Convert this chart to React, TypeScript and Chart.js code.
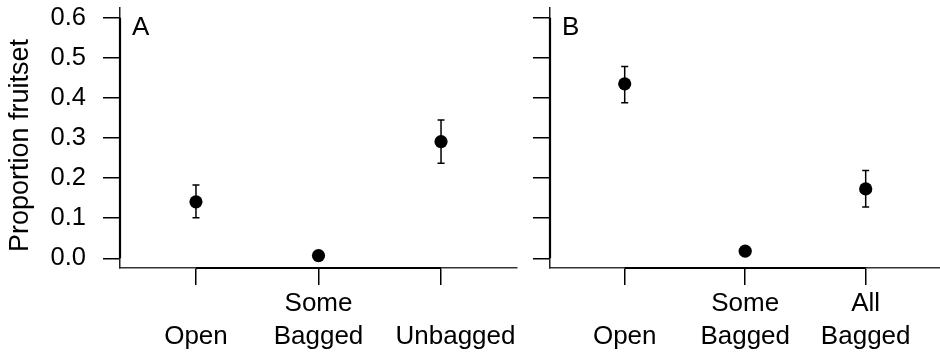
import React, { useEffect, useRef } from "react";
import { Chart, registerables } from "chart.js";

Chart.register(...registerables);

// ---- data ----
const yTickValues = [0, 0.1, 0.2, 0.3, 0.4, 0.5, 0.6];
const xTickValues = [1, 2, 3];
const categoriesA = [["", "Open"], ["Some", "Bagged"], ["", "    Unbagged"]];
const categoriesB = [["", "Open"], ["Some", "Bagged"], ["All", "Bagged"]];
const meanA = [0.141, 0.007, 0.291];
const lowA = [0.101, 0.007, 0.237];
const highA = [0.183, 0.007, 0.345];
const meanB = [0.435, 0.018, 0.173];
const lowB = [0.388, 0.018, 0.128];
const highB = [0.478, 0.018, 0.219];
const yTitle = "Proportion fruitset";
const panelLabels = ["A", "B"];

const FONT = "'Liberation Sans', Arial, Helvetica, sans-serif";

const errorBarPlugin = {
  id: "errorBars",
  beforeDatasetsDraw(chart: any, _args: any, opts: any) {
    const { ctx } = chart;
    const xs = chart.scales.x;
    const ys = chart.scales.y;
    ctx.save();
    ctx.strokeStyle = "#000";
    ctx.lineWidth = 1.5;
    const low: number[] = opts.low || [];
    const high: number[] = opts.high || [];
    low.forEach((lo, i) => {
      const hi = high[i];
      if (hi === lo) return;
      const x = xs.getPixelForValue(i + 1);
      const y1 = ys.getPixelForValue(lo);
      const y2 = ys.getPixelForValue(hi);
      ctx.beginPath();
      ctx.moveTo(x, y1);
      ctx.lineTo(x, y2);
      ctx.moveTo(x - 3.5, y1);
      ctx.lineTo(x + 3.5, y1);
      ctx.moveTo(x - 3.5, y2);
      ctx.lineTo(x + 3.5, y2);
      ctx.stroke();
    });
    ctx.restore();
  },
};

const panelLabelPlugin = {
  id: "panelLabel",
  afterDraw(chart: any, _args: any, opts: any) {
    if (!opts.text) return;
    const { ctx, chartArea } = chart;
    ctx.save();
    ctx.fillStyle = "#000";
    ctx.font = `26px ${FONT}`;
    ctx.textAlign = "left";
    ctx.textBaseline = "alphabetic";
    ctx.fillText(opts.text, chartArea.left + 12, 34.5);
    ctx.restore();
  },
};

const axisLinePlugin = {
  id: "axisLines",
  afterDraw(chart: any) {
    const { ctx, chartArea } = chart;
    const xs = chart.scales.x;
    const ys = chart.scales.y;
    ctx.save();
    ctx.strokeStyle = "#000";
    ctx.lineWidth = 2.2;
    ctx.beginPath();
    ctx.moveTo(xs.getPixelForValue(xTickValues[0]), chartArea.bottom);
    ctx.lineTo(xs.getPixelForValue(xTickValues[xTickValues.length - 1]), chartArea.bottom);
    ctx.moveTo(chartArea.left, ys.getPixelForValue(yTickValues[0]));
    ctx.lineTo(chartArea.left, ys.getPixelForValue(yTickValues[yTickValues.length - 1]));
    ctx.stroke();
    ctx.restore();
  },
};

function makeConfig(
  mean: number[],
  low: number[],
  high: number[],
  cats: string[][],
  label: string,
  showY: boolean
): any {
  return {
    type: "scatter",
    data: {
      datasets: [
        {
          data: mean.map((m, i) => ({ x: i + 1, y: m })),
          backgroundColor: "#000",
          borderColor: "#000",
          borderWidth: 0,
          pointRadius: 6.6,
          pointHoverRadius: 6.6,
        },
      ],
    },
    plugins: [errorBarPlugin, panelLabelPlugin, axisLinePlugin],
    options: {
      animation: false,
      responsive: false,
      devicePixelRatio: 1,
      layout: { padding: { top: 8, right: showY ? 13 : 0, left: 0, bottom: 0 } },
      plugins: {
        legend: { display: false },
        tooltip: { enabled: false },
        errorBars: { low, high },
        panelLabel: { text: label },
      },
      scales: {
        x: {
          type: "linear",
          min: 0.38,
          max: 3.62,
          afterBuildTicks: (s: any) => {
            s.ticks = xTickValues.map((v) => ({ value: v }));
          },
          afterFit: (s: any) => {
            s.height = 87;
            s.paddingLeft = 0;
            s.paddingRight = 0;
            s.paddingTop = 0;
            s.paddingBottom = 0;
          },
          ticks: {
            callback: (v: number) => cats[Math.round(v) - 1],
            font: { family: FONT, size: 26, lineHeight: 1.27 },
            color: "#000",
            padding: 2,
            maxRotation: 0,
            autoSkip: false,
          },
          grid: {
            drawOnChartArea: false,
            drawTicks: true,
            tickLength: 17,
            color: "#000",
            lineWidth: 1.5,
          },
          border: { display: true, color: "#333", width: 1.5 },
        },
        y: {
          type: "linear",
          min: -0.024,
          max: 0.624,
          afterBuildTicks: (s: any) => {
            s.ticks = yTickValues.map((v) => ({ value: v }));
          },
          afterFit: (s: any) => {
            s.width = showY ? 120 : 20;
            s.paddingLeft = 0;
            s.paddingRight = 0;
            s.paddingTop = 0;
            s.paddingBottom = 0;
          },
          ticks: {
            callback: (v: number) => (showY ? v.toFixed(1) : ""),
            font: { family: FONT, size: 25.5 },
            color: "#000",
            padding: 17,
            autoSkip: false,
          },
          grid: {
            drawOnChartArea: false,
            drawTicks: true,
            tickLength: 17,
            color: "#000",
            lineWidth: 1.5,
          },
          border: { display: true, color: "#222", width: 1.5 },
          title: {
            display: showY,
            text: yTitle + "  ",
            font: { family: FONT, size: 27 },
            color: "#000",
            padding: { top: 4, bottom: 0 },
          },
        },
      },
    },
  };
}

export default function App() {
  const refA = useRef<HTMLCanvasElement>(null);
  const refB = useRef<HTMLCanvasElement>(null);

  useEffect(() => {
    const a = new Chart(refA.current as HTMLCanvasElement, makeConfig(meanA, lowA, highA, categoriesA, panelLabels[0], true));
    const b = new Chart(refB.current as HTMLCanvasElement, makeConfig(meanB, lowB, highB, categoriesB, panelLabels[1], false));
    return () => {
      a.destroy();
      b.destroy();
    };
  }, []);

  return (
    <div
      style={{
        position: "absolute",
        left: 0,
        top: 0,
        width: 940,
        height: 355,
        overflow: "hidden",
        background: "#fff",
      }}
    >
      <canvas ref={refA} width={530} height={355} style={{ position: "absolute", left: 0, top: 0 }} />
      <canvas ref={refB} width={417} height={355} style={{ position: "absolute", left: 530, top: 0 }} />
    </div>
  );
}
